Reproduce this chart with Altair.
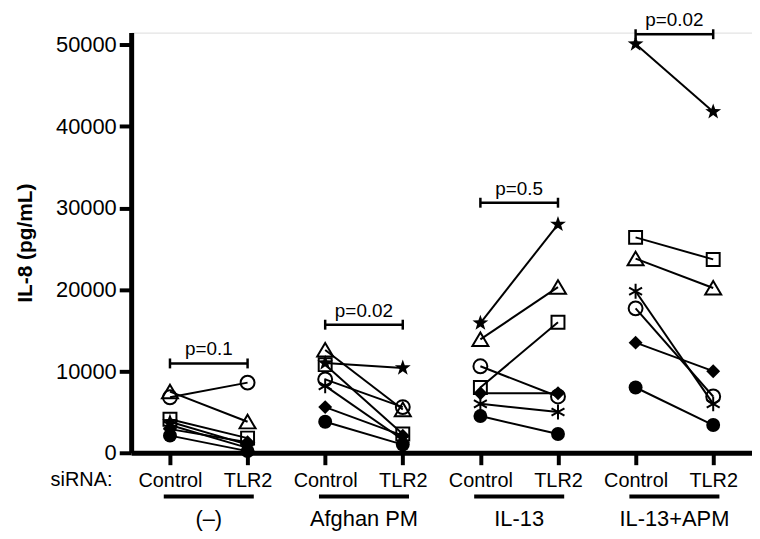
import altair as alt
import pandas as pd

# ---- data ----
groups = ["(–)", "Afghan PM", "IL-13", "IL-13+APM"]
sirna = ["Control", "TLR2"]
donors = ["D1", "D2", "D3", "D4", "D5", "D6", "D7"]

ctrl_none = [2100, 2900, 3400, 6800, 4100, 7500, 3800]
tlr2_none = [200, 1300, 600, 8600, 1800, 3800, 1000]
ctrl_afghan = [3800, 5600, 8200, 9000, 10800, 12600, 11000]
tlr2_afghan = [1000, 2100, 1600, 5600, 2300, 5300, 10400]
ctrl_il13 = [4500, 7300, 6000, 10600, 8000, 13900, 15900]
tlr2_il13 = [2300, 7300, 5000, 6900, 16000, 20300, 28000]
ctrl_apm = [8000, 13500, 19800, 17700, 26400, 23800, 50100]
tlr2_apm = [3400, 10000, 6000, 6900, 23700, 20200, 41800]

p_labels = ["p=0.1", "p=0.02", "p=0.5", "p=0.02"]
bracket_y = [10950, 15700, 30650, 51300]

y_ticks = [0, 10000, 20000, 30000, 40000, 50000]

# ---- build tables ----
ctrl = [ctrl_none, ctrl_afghan, ctrl_il13, ctrl_apm]
tlr2 = [tlr2_none, tlr2_afghan, tlr2_il13, tlr2_apm]
rows = []
for gi, g in enumerate(groups):
    for di, d in enumerate(donors):
        for si, vals in enumerate([ctrl[gi], tlr2[gi]]):
            rows.append({"group": g, "donor": d, "sirna": sirna[si],
                         "xi": 2 * gi + si, "val": vals[di], "key": g + d})
df = pd.DataFrame(rows)

gdf = pd.DataFrame({
    "group": groups,
    "x1": [2 * i for i in range(len(groups))],
    "x2": [2 * i + 1 for i in range(len(groups))],
    "xc": [2 * i + 0.5 for i in range(len(groups))],
    "us": [2 * i - 0.08 for i in range(len(groups))],
    "ue": [2 * i + 1.08 for i in range(len(groups))],
    "by": bracket_y,
    "p": p_labels,
})
caps = pd.concat([
    gdf[["x1", "by"]].rename(columns={"x1": "cx"}),
    gdf[["x2", "by"]].rename(columns={"x2": "cx"}),
])

star = ("M0,-1.2L0.282,-0.389L1.141,-0.371L0.456,0.149L0.705,0.971L0,0.48"
        "L-0.705,0.971L-0.456,0.149L-1.141,-0.371L-0.282,-0.389Z")
asterisk = "M0,-1.07L0,1.07M-0.93,-0.535L0.93,0.535M-0.93,0.535L0.93,-0.535"
diamond = "M0,-1L1,0L0,1L-1,0Z"
square = "M-0.93,-0.93L0.93,-0.93L0.93,0.93L-0.93,0.93Z"
triangle = "M0,-1L1.15,0.95L-1.15,0.95Z"
shape_range = ["circle", diamond, asterisk, "circle", square, triangle, star]
fill_range = ["black", "black", "transparent", "transparent", "transparent", "transparent", "black"]
stroke_range = ["transparent", "transparent", "black", "black", "black", "black", "transparent"]

FONT = "Liberation Sans"

x_enc = alt.X(
    "xi:Q",
    scale=alt.Scale(domain=[-0.5, 7.5], nice=False, zero=False),
    axis=alt.Axis(
        values=list(range(8)),
        labelExpr=f"datum.value % 2 == 0 ? '{sirna[0]}' : '{sirna[1]}'",
        title=None, grid=False, labelFontSize=20, labelFont=FONT, labelColor="black",
        tickSize=12, tickWidth=4, tickColor="black", domainWidth=5, domainColor="black",
        labelPadding=6, labelFlush=False, labelOverlap=False,
    ),
)
y_scale = alt.Scale(domain=[0, 51500], nice=False)
y_enc = alt.Y(
    "val:Q", scale=y_scale,
    axis=alt.Axis(
        values=y_ticks, format="d", title="IL-8 (pg/mL)", grid=False,
        labelFontSize=22, labelFont=FONT, labelColor="black",
        titleFontSize=21, titleFont=FONT, titleFontWeight="bold", titleColor="black",
        titlePadding=20, tickSize=12, tickWidth=4, tickColor="black",
        domainWidth=5, domainColor="black", labelPadding=3,
    ),
)

base = alt.Chart(df)
lines = base.mark_line(color="black", strokeWidth=2).encode(
    x=x_enc, y=y_enc, detail="key:N", order="xi:Q"
)
points = base.mark_point(size=196, strokeWidth=2, opacity=1, strokeJoin="miter").encode(
    x="xi:Q", y="val:Q",
    shape=alt.Shape("donor:N", scale=alt.Scale(domain=donors, range=shape_range), legend=None),
    fill=alt.Fill("donor:N", scale=alt.Scale(domain=donors, range=fill_range), legend=None),
    stroke=alt.Stroke("donor:N", scale=alt.Scale(domain=donors, range=stroke_range), legend=None),
)

gbase = alt.Chart(gdf)
bracket = gbase.mark_rule(color="black", strokeWidth=2.5).encode(
    x="x1:Q", x2="x2:Q", y=alt.Y("by:Q", scale=y_scale)
)
cap_rules = alt.Chart(caps).mark_rule(color="black", strokeWidth=2.5, yOffset=-5, y2Offset=5).encode(
    x="cx:Q", y=alt.Y("by:Q", scale=y_scale), y2="by:Q"
)
ptext = gbase.mark_text(fontSize=19, font=FONT, baseline="alphabetic", dy=-8, color="black").encode(
    x="xc:Q", y=alt.Y("by:Q", scale=y_scale), text="p:N"
)
underline = gbase.mark_rule(color="black", strokeWidth=4).encode(
    x="us:Q", x2="ue:Q", y=alt.value(467)
)
glabels = gbase.mark_text(fontSize=22, font=FONT, baseline="alphabetic", color="black").encode(
    x="xc:Q", y=alt.value(497), text="group:N"
)
sirna_label = alt.Chart(pd.DataFrame({"t": ["siRNA:"]})).mark_text(
    fontSize=20, font=FONT, baseline="alphabetic", color="black"
).encode(x=alt.value(-50), y=alt.value(456), text="t:N")

chart = alt.layer(
    lines, points, bracket, cap_rules, ptext, underline, glabels, sirna_label
).properties(
    width=625, height=423,
    padding={"left": 124, "top": 23, "right": 0, "bottom": 80},
    autosize=alt.AutoSizeParams(type="none"),
).configure_view(stroke=None).configure(background="white")

chart.save("out.html", embed_options={"renderer": "svg", "actions": False})
